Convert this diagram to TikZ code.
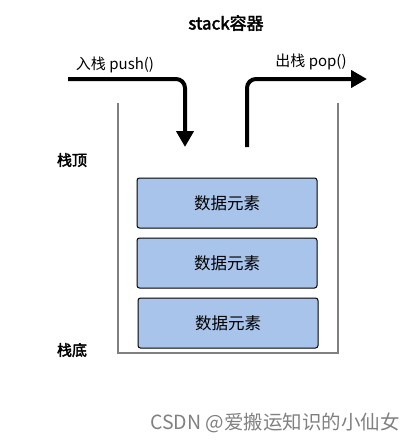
\documentclass[tikz,border=0pt]{standalone}
\usepackage{fontspec}
\setmainfont{Noto Sans CJK SC}[AutoFakeBold=2.5]
\usetikzlibrary{arrows.meta,positioning}
\definecolor{elemblue}{HTML}{A9C4EB}
\definecolor{wallgray}{HTML}{808080}

\begin{document}
\begin{tikzpicture}[x=1pt,y=-1pt,
  elem/.style={draw, rounded corners=2.5pt, fill=elemblue, line width=1pt, minimum width=180pt, minimum height=50pt, font=\fontsize{16.5}{18}\selectfont},
  side/.style={font=\fontsize{15}{18}\selectfont\bfseries},
  lab/.style={font=\fontsize{15}{18}\selectfont},
  flow/.style={line width=4pt, rounded corners=9pt, -{Triangle[length=16pt,width=17pt]}}]
\useasboundingbox (0,0) rectangle (414,442);

\node[font=\fontsize{17}{20}\selectfont\bfseries] (title) at (226,23) {stack容器};
\node[lab] (pushlab) at (115,65) {入栈 push()};
\node[lab] (poplab) at (311,62) {出栈 pop()};
\node[side] (top) at (72,160) {栈顶};
\node[side] (bottom) at (72,350) {栈底};

\node[elem] (e1) at (227,203) {数据元素};
\node[elem] (e2) at (227,263) {数据元素};
\node[elem] (e3) at (228,323) {数据元素};

\coordinate (wl) at (118,103);
\coordinate (wr) at (338,103);
\draw[wallgray, line width=1.5pt] (wl) |- (118,353) -| (wr);

\coordinate (pushin) at (68,79);
\coordinate (pushout) at (185,147);
\coordinate (popin) at (247,147);
\coordinate (popout) at (367,79);
\draw[flow] (pushin) -| (pushout);
\draw[flow] (popin) |- (popout);

\node[text=gray, font=\fontsize{19.5}{22}\selectfont] (mark) at (275,423) {CSDN @爱搬运知识的小仙女};
\end{tikzpicture}
\end{document}
